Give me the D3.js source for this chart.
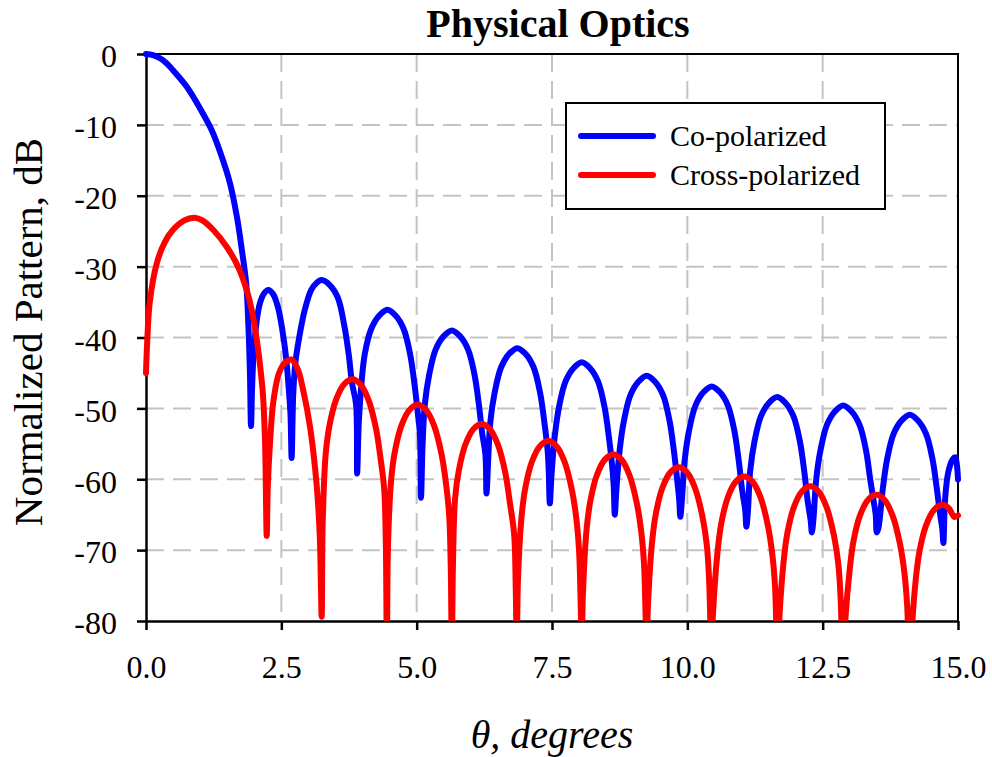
<!DOCTYPE html>
<html>
<head>
<meta charset="utf-8">
<script src="https://cdn.jsdelivr.net/npm/d3@7"></script>
<style>
  body { margin: 0; background: #fff; }
  svg text { font-family: "Liberation Serif", "Times New Roman", serif; fill: #000; }
</style>
</head>
<body>
<script>
// Data: [theta in degrees, pattern in dB]
const chartTitle = "Physical Optics";
const seriesNames = ["Co-polarized", "Cross-polarized"];
const seriesColors = ["#0000ff", "#ff0000"];
const xTicks = [0, 2.5, 5, 7.5, 10, 12.5, 15];
const yTicks = [0, -10, -20, -30, -40, -50, -60, -70, -80];

const coPolarized = [
  [0, 0], [0.13, -0.15], [0.26, -0.6], [0.38, -1.3], [0.5, -2.3], [0.75, -4.6], [1, -7.7], [1.21, -10.7], [1.4, -14.5],
  [1.55, -18.2], [1.68, -23], [1.77, -27.6], [1.85, -32.3], [1.89, -38], [1.92, -45], [1.94, -52.5],
  [1.96, -47], [1.99, -42], [2.04, -38], [2.1, -35.3], [2.18, -33.8], [2.26, -33.3], [2.35, -33.9], [2.44, -35.8],
  [2.52, -39], [2.59, -43], [2.64, -47.5], [2.67, -51], [2.69, -57],
  [2.72, -48], [2.76, -43.5], [2.83, -40], [2.93, -36.2], [3.05, -33.3], [3.15, -32.3], [3.245, -31.9], [3.395, -32.6],
  [3.545, -34.4], [3.665, -38.4], [3.745, -42.4], [3.805, -46.4], [3.88, -49.4], [3.9, -59.2],
  [3.93, -52.1], [3.97, -47.5], [4.04, -42.4], [4.16, -38.8], [4.31, -36.9], [4.46, -36.1], [4.61, -36.9], [4.76, -38.8],
  [4.88, -42.4], [4.96, -46.6], [5.02, -50.6], [5.06, -53.6], [5.08, -62.6],
  [5.11, -55], [5.15, -49.5], [5.23, -45.3], [5.35, -41.7], [5.5, -39.8], [5.65, -39], [5.8, -39.8], [5.95, -41.7],
  [6.07, -45.3], [6.15, -49.5], [6.21, -53.5], [6.27, -56.5], [6.29, -62],
  [6.32, -57.5], [6.36, -52], [6.44, -47.8], [6.56, -44.2], [6.71, -42.3], [6.86, -41.5], [7.01, -42.3], [7.16, -44.2],
  [7.28, -47.8], [7.36, -52], [7.42, -56], [7.44, -59], [7.46, -63.4],
  [7.49, -59.5], [7.55, -54], [7.63, -49.8], [7.75, -46.2], [7.9, -44.3], [8.05, -43.5], [8.2, -44.3], [8.35, -46.2],
  [8.47, -49.8], [8.55, -54], [8.61, -58], [8.64, -61], [8.66, -65],
  [8.69, -61.4], [8.75, -55.9], [8.83, -51.7], [8.95, -48.1], [9.1, -46.2], [9.25, -45.4], [9.4, -46.2], [9.55, -48.1],
  [9.67, -51.7], [9.75, -55.9], [9.81, -59.9], [9.85, -62.9], [9.87, -65.3],
  [9.9, -62.9], [9.95, -57.4], [10.03, -53.2], [10.15, -49.6], [10.3, -47.7], [10.45, -46.9], [10.6, -47.7], [10.75, -49.6],
  [10.87, -53.2], [10.95, -57.4], [11.01, -61.4], [11.07, -64.4], [11.09, -66.7],
  [11.12, -64.4], [11.16, -58.9], [11.24, -54.7], [11.36, -51.1], [11.51, -49.2], [11.66, -48.4], [11.81, -49.2], [11.96, -51.1],
  [12.08, -54.7], [12.16, -58.9], [12.22, -62.9], [12.28, -65.9], [12.3, -67.5],
  [12.33, -65.6], [12.38, -60.1], [12.46, -55.9], [12.58, -52.3], [12.73, -50.4], [12.88, -49.6], [13.03, -50.4], [13.18, -52.3],
  [13.3, -55.9], [13.38, -60.1], [13.44, -63], [13.48, -65], [13.5, -67.5],
  [13.53, -66.9], [13.61, -61.4], [13.69, -57.2], [13.81, -53.6], [13.96, -51.7], [14.11, -50.9], [14.26, -51.7], [14.41, -53.6],
  [14.53, -57.2], [14.61, -61.4], [14.67, -65], [14.71, -67], [14.73, -69],
  [14.76, -63], [14.82, -59], [14.9, -57.2], [14.95, -56.9], [14.98, -58], [15, -60]
];

const crossPolarized = [
  [0, -45], [0.02, -41], [0.07, -35], [0.2, -29.5], [0.35, -26.5], [0.5, -24.8], [0.7, -23.5], [0.9, -23.1],
  [1.05, -23.5], [1.24, -24.8], [1.49, -27.2], [1.7, -30], [1.86, -33.3], [1.95, -36], [2.04, -40], [2.1, -43.5],
  [2.16, -48], [2.2, -55], [2.23, -68],
  [2.25, -61], [2.29, -55], [2.35, -49.2], [2.45, -45.2], [2.56, -43.6], [2.68, -43.1], [2.8, -44.4], [2.9, -47.3],
  [3.03, -52.6], [3.15, -60.6], [3.21, -68], [3.245, -79.4],
  [3.265, -65.9], [3.32, -56.4], [3.39, -52.4], [3.51, -48.8], [3.66, -46.6], [3.81, -45.9], [3.96, -46.6], [4.11, -48.8],
  [4.25, -52.9], [4.33, -56.9], [4.4, -61.4], [4.43, -68.9], [4.45, -85],
  [4.47, -69.5], [4.53, -60], [4.6, -56], [4.72, -52.4], [4.87, -50.2], [5.02, -49.5], [5.17, -50.2], [5.32, -52.4],
  [5.46, -56.5], [5.54, -60.5], [5.6, -65], [5.63, -72.5], [5.65, -85],
  [5.67, -72.2], [5.71, -62.7], [5.78, -58.7], [5.9, -55.1], [6.05, -52.9], [6.2, -52.2], [6.35, -52.9], [6.5, -55.1],
  [6.64, -59.2], [6.72, -63.2], [6.8, -67.7], [6.83, -75.2], [6.85, -85],
  [6.87, -74.6], [6.94, -65.1], [7.01, -61.1], [7.13, -57.5], [7.28, -55.3], [7.43, -54.6], [7.58, -55.3], [7.73, -57.5],
  [7.87, -61.6], [7.95, -65.6], [8, -70.1], [8.03, -77.6], [8.05, -85],
  [8.07, -76.5], [8.14, -67], [8.21, -63], [8.33, -59.4], [8.48, -57.2], [8.63, -56.5], [8.78, -57.2], [8.93, -59.4],
  [9.07, -63.5], [9.15, -67.5], [9.2, -72], [9.23, -79.5], [9.25, -85],
  [9.27, -78.3], [9.35, -68.8], [9.42, -64.8], [9.54, -61.2], [9.69, -59], [9.84, -58.3], [9.99, -59], [10.14, -61.2],
  [10.28, -65.3], [10.36, -69.3], [10.4, -73.8], [10.43, -81.3], [10.45, -85],
  [10.47, -79.6], [10.56, -70.1], [10.63, -66.1], [10.75, -62.5], [10.9, -60.3], [11.05, -59.6], [11.2, -60.3], [11.35, -62.5],
  [11.49, -66.6], [11.57, -70.6], [11.62, -75.1], [11.65, -82.6], [11.67, -86],
  [11.69, -81], [11.78, -71.5], [11.85, -67.5], [11.97, -63.9], [12.12, -61.7], [12.27, -61], [12.42, -61.7], [12.57, -63.9],
  [12.71, -68], [12.79, -72], [12.83, -76.5], [12.86, -84], [12.88, -88],
  [12.9, -82.2], [13, -72.7], [13.07, -68.7], [13.19, -65.1], [13.34, -62.9], [13.49, -62.2], [13.64, -62.9], [13.79, -65.1],
  [13.93, -69.2], [14.01, -73.2], [14.06, -77.7], [14.09, -85], [14.11, -88],
  [14.13, -83.6], [14.22, -74.1], [14.29, -70.1], [14.41, -66.5], [14.56, -64.3], [14.71, -63.6], [14.83, -64.1], [14.93, -65.3],
  [15, -65.1]
];

const width = 992;
const height = 757;
const plot = { left: 146, right: 958, top: 54, bottom: 621 };

const svg = d3.select("body").append("svg")
  .attr("width", width)
  .attr("height", height);

const x = d3.scaleLinear().domain([0, 15]).range([plot.left, plot.right]);
const y = d3.scaleLinear().domain([-80, 0]).range([plot.bottom, plot.top]);

// gridlines
const grid = svg.append("g")
  .attr("stroke", "#c3c3c3")
  .attr("stroke-width", 2)
  .attr("stroke-dasharray", "18,9");

grid.selectAll("line.v")
  .data(xTicks.slice(1, -1))
  .enter().append("line")
  .attr("class", "v")
  .attr("x1", d => x(d)).attr("x2", d => x(d))
  .attr("y1", plot.top).attr("y2", plot.bottom);

grid.selectAll("line.h")
  .data(yTicks.slice(1, -1))
  .enter().append("line")
  .attr("class", "h")
  .attr("x1", plot.left).attr("x2", plot.right)
  .attr("y1", d => y(d)).attr("y2", d => y(d));

// frame top + right
svg.append("path")
  .attr("d", `M${plot.left},${plot.top}H${plot.right}V${plot.bottom}`)
  .attr("fill", "none")
  .attr("stroke", "#000")
  .attr("stroke-width", 2);

// axes (plain hyphen as minus, like the original)
const yAxis = svg.append("g")
  .attr("transform", `translate(${plot.left},0)`)
  .call(d3.axisLeft(y).tickValues(yTicks).tickSize(9).tickSizeOuter(0).tickFormat(d => String(d)));

const xAxis = svg.append("g")
  .attr("transform", `translate(0,${plot.bottom})`)
  .call(d3.axisBottom(x).tickValues(xTicks).tickSize(9).tickSizeOuter(0).tickFormat(d3.format(".1f")));

[xAxis, yAxis].forEach(g => {
  g.attr("font-family", null);
  g.select(".domain").attr("stroke", "#000").attr("stroke-width", 2.5);
  g.selectAll(".tick line").attr("stroke", "#000").attr("stroke-width", 2.5);
  g.selectAll(".tick text").attr("font-size", 32);
});

yAxis.selectAll(".tick text").attr("x", -29).attr("dy", "0.4em");
xAxis.selectAll(".tick text").attr("y", 57).attr("dy", null);

// lines
svg.append("clipPath").attr("id", "clip")
  .append("rect")
  .attr("x", plot.left - 6).attr("y", plot.top - 10)
  .attr("width", plot.right - plot.left + 12)
  .attr("height", plot.bottom - plot.top + 10);

const line = d3.line()
  .x(d => x(d[0]))
  .y(d => y(d[1]))
  .curve(d3.curveCatmullRom.alpha(0.5));

svg.append("g").attr("clip-path", "url(#clip)")
  .selectAll("path")
  .data([coPolarized, crossPolarized])
  .enter().append("path")
  .attr("d", line)
  .attr("fill", "none")
  .attr("stroke", (d, i) => seriesColors[i])
  .attr("stroke-width", 6)
  .attr("stroke-linejoin", "round")
  .attr("stroke-linecap", "round");

// title and axis labels
svg.append("text")
  .attr("x", 558).attr("y", 37)
  .attr("text-anchor", "middle")
  .attr("font-size", 40)
  .attr("font-weight", "bold")
  .text(chartTitle);

svg.append("text")
  .attr("transform", "translate(42,332) rotate(-90)")
  .attr("text-anchor", "middle")
  .attr("font-size", 41)
  .text("Normalized Pattern, dB");

svg.append("text")
  .attr("x", 552).attr("y", 748)
  .attr("text-anchor", "middle")
  .attr("font-size", 40)
  .attr("font-style", "italic")
  .text("θ, degrees");

// legend
const legend = svg.append("g");
legend.append("rect")
  .attr("x", 566).attr("y", 103)
  .attr("width", 319).attr("height", 106)
  .attr("fill", "#fff")
  .attr("stroke", "#000")
  .attr("stroke-width", 2);

const items = legend.selectAll("g.item")
  .data(seriesNames)
  .enter().append("g")
  .attr("class", "item")
  .attr("transform", (d, i) => `translate(0,${136 + i * 39})`);

items.append("line")
  .attr("x1", 581).attr("x2", 653)
  .attr("stroke", (d, i) => seriesColors[i])
  .attr("stroke-width", 6)
  .attr("stroke-linecap", "round");

items.append("text")
  .attr("x", 670).attr("y", 10)
  .attr("font-size", 30)
  .text(d => d);
</script>
</body>
</html>
